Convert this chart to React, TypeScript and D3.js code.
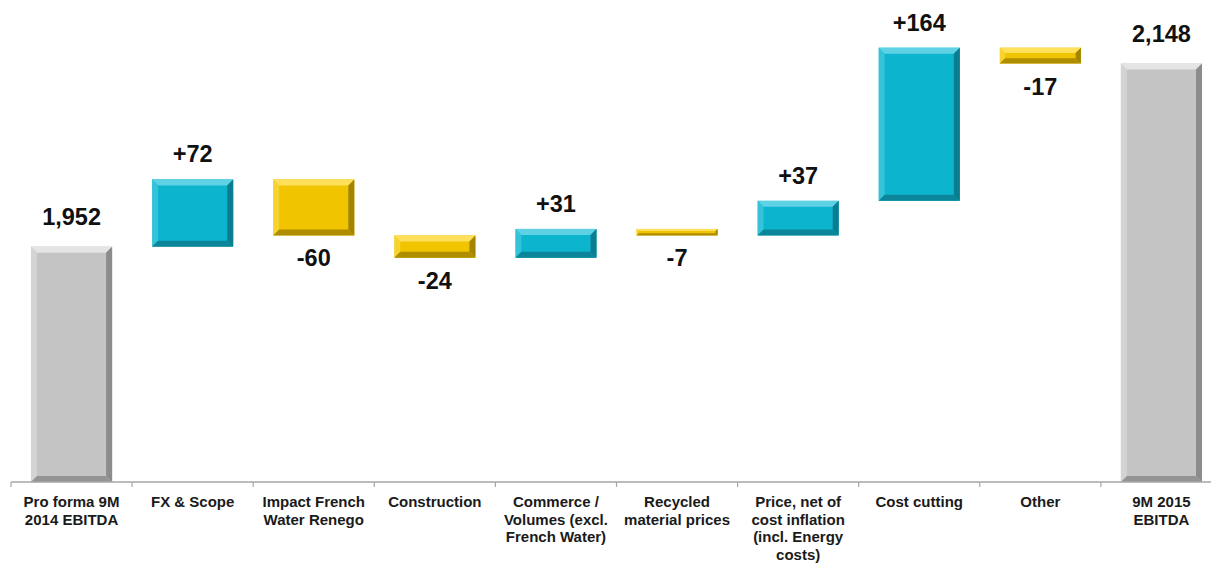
import React from 'react';
import * as d3 from 'd3';

// Waterfall: 9M 2014 -> 9M 2015 EBITDA bridge
const categories = [
  'Pro forma 9M 2014 EBITDA',
  'FX & Scope',
  'Impact French Water Renego',
  'Construction',
  'Commerce / Volumes (excl. French Water)',
  'Recycled material prices',
  'Price, net of cost inflation (incl. Energy costs)',
  'Cost cutting',
  'Other',
  '9M 2015 EBITDA',
];

const categoryLines = [
  ['Pro forma 9M', '2014 EBITDA'],
  ['FX & Scope'],
  ['Impact French', 'Water Renego'],
  ['Construction'],
  ['Commerce /', 'Volumes (excl.', 'French Water)'],
  ['Recycled', 'material prices'],
  ['Price, net of', 'cost inflation', '(incl. Energy', 'costs)'],
  ['Cost cutting'],
  ['Other'],
  ['9M 2015', 'EBITDA'],
];

const values = [1952, 72, -60, -24, 31, -7, 37, 164, -17, 2148];
const isTotal = [true, false, false, false, false, false, false, false, false, true];

const W = 1211;
const H = 563;
const axisY = 482;

const palette = {
  total: { base: '#c4c4c4', light: '#e4e4e4', dark: '#8c8c8c' },
  up: { base: '#0db4ce', light: '#5ed2e4', dark: '#0a7d90' },
  down: { base: '#f1c400', light: '#ffe05a', dark: '#a38400' },
};

const fmt = (v: number, total: boolean) =>
  total ? d3.format(',')(v) : (v > 0 ? '+' : '') + v;

function BevelBar({ x, y, w, h, c }: { x: number; y: number; w: number; h: number; c: { base: string; light: string; dark: string } }) {
  const b = Math.min(6, h / 3, w / 3);
  const pts = (p: number[][]) => p.map(q => q.join(',')).join(' ');
  return (
    <g>
      <rect x={x} y={y} width={w} height={h} fill={c.base} />
      <polygon points={pts([[x, y], [x + w, y], [x + w - b, y + b], [x + b, y + b]])} fill={c.light} />
      <polygon points={pts([[x, y], [x + b, y + b], [x + b, y + h - b], [x, y + h]])} fill={c.light} opacity={0.5} />
      <polygon points={pts([[x + w, y], [x + w, y + h], [x + w - b, y + h - b], [x + w - b, y + b]])} fill={c.dark} />
      <polygon points={pts([[x, y + h], [x + w, y + h], [x + w - b, y + h - b], [x + b, y + h - b]])} fill={c.dark} opacity={0.85} />
    </g>
  );
}

export default function App() {
  const step = 121.1;
  const x0 = 11;
  const x = d3.scaleBand<string>()
    .domain(categories)
    .range([x0, x0 + step * categories.length])
    .paddingInner(0.33)
    .paddingOuter(0.165);

  const y = d3.scaleLinear().domain([1700, 2200]).range([axisY, axisY - 500 * 0.934]);

  // running totals for the floating bars
  let run = 0;
  const bars = values.map((v, i) => {
    let lo: number, hi: number;
    if (isTotal[i]) {
      lo = y.domain()[0];
      hi = v;
      run = v;
    } else {
      const start = run;
      run = start + v;
      lo = Math.min(start, run);
      hi = Math.max(start, run);
    }
    return { cat: categories[i], v, lo, hi, total: isTotal[i] };
  });

  const font = 'Arial, "Liberation Sans", sans-serif';
  const tickXs = d3.range(categories.length + 1).map(i => x0 + i * x.step());

  return (
    <svg width={W} height={H} style={{ position: 'fixed', left: 0, top: 0, background: '#fff' }}>
      {bars.map((d, i) => {
        const bx = x(d.cat) as number;
        const top = y(d.hi);
        const bottom = y(d.lo);
        const c = d.total ? palette.total : d.v > 0 ? palette.up : palette.down;
        const cx = bx + x.bandwidth() / 2;
        const labelY = d.total ? top - 22 : d.v > 0 ? top - 17 : bottom + 31;
        return (
          <g key={d.cat}>
            <BevelBar x={bx} y={top} w={x.bandwidth()} h={bottom - top} c={c} />
            <text x={cx} y={labelY} textAnchor="middle" fontFamily={font} fontWeight="bold" fontSize={23.5} fill="#111">
              {fmt(d.v, d.total)}
            </text>
          </g>
        );
      })}

      <line x1={x0} x2={W} y1={axisY} y2={axisY} stroke="#a6a6a6" strokeWidth={1.5} />
      {tickXs.map(t => (
        <line key={t} x1={t} x2={t} y1={axisY} y2={axisY + 5} stroke="#a6a6a6" strokeWidth={1.2} />
      ))}

      {categories.map((cat, i) => (
        <text key={cat} x={(x(cat) as number) + x.bandwidth() / 2} y={507} textAnchor="middle"
          fontFamily={font} fontWeight="bold" fontSize={15} fill="#1a1a1a">
          {categoryLines[i].map((ln, j) => (
            <tspan key={j} x={(x(cat) as number) + x.bandwidth() / 2} dy={j === 0 ? 0 : 17.5}>{ln}</tspan>
          ))}
        </text>
      ))}
    </svg>
  );
}
